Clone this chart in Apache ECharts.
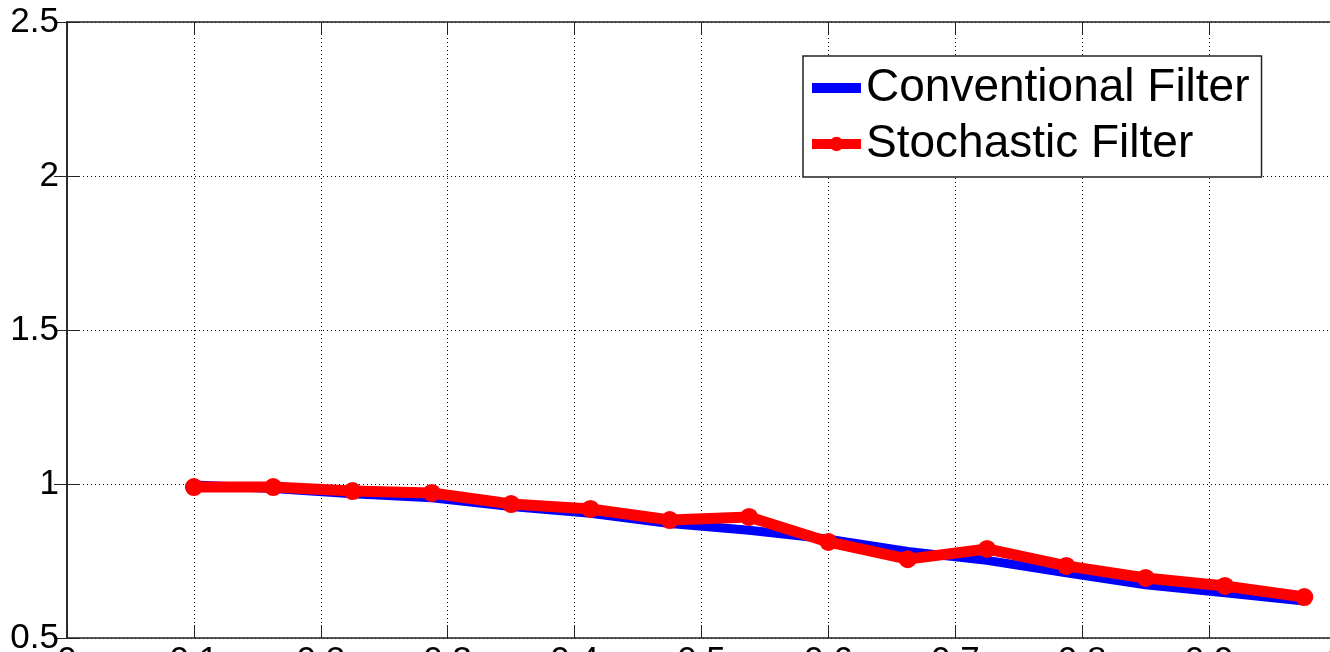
<!DOCTYPE html>
<html><head><meta charset="utf-8">
<script src="https://cdn.jsdelivr.net/npm/echarts@6/dist/echarts.min.js"></script>
<style>html,body{margin:0;padding:0;background:#fff}#c{width:1330px;height:652px}</style>
</head><body><div id="c"></div>
<script>
// Data
const xValues = [0.1, 0.1625, 0.225, 0.2875, 0.35, 0.4125, 0.475, 0.5375, 0.6, 0.6625, 0.725, 0.7875, 0.85, 0.9125, 0.975];
const conventional = [0.997, 0.985, 0.968, 0.955, 0.927, 0.905, 0.872, 0.85, 0.821, 0.781, 0.752, 0.712, 0.673, 0.647, 0.620];
const stochastic = [0.990, 0.990, 0.977, 0.971, 0.935, 0.919, 0.883, 0.893, 0.812, 0.756, 0.789, 0.734, 0.695, 0.669, 0.633];
const seriesNames = ['Conventional Filter', 'Stochastic Filter'];

const FONT = 'Liberation Sans, Arial, Helvetica, sans-serif';
const chart = echarts.init(document.getElementById('c'));

const axisCommon = {
  type: 'value',
  axisLine: { show: true, lineStyle: { color: '#222', width: 1.5 } },
  axisTick: { show: true, inside: true, length: 13, lineStyle: { color: '#222', width: 1 } }
};

chart.setOption({
  animation: false,
  backgroundColor: '#fff',
  grid: { left: 67, right: -6, top: 22, bottom: 14, containLabel: false, outerBoundsMode: 'none' },
  legend: {
    orient: 'vertical',
    left: 803, top: 56,
    backgroundColor: '#fff',
    borderColor: '#222', borderWidth: 1.5,
    padding: [9, 12, 10, 4],
    itemGap: 10,
    itemWidth: 49, itemHeight: 18,
    textStyle: { fontSize: 46, color: '#000', fontFamily: FONT },
    data: [
      { name: seriesNames[0], itemStyle: { opacity: 0 }, lineStyle: { width: 10, color: '#0000ff' } },
      { name: seriesNames[1], lineStyle: { width: 10, color: '#ff0000' } }
    ]
  },
  xAxis: [
    Object.assign({}, axisCommon, {
      min: 0, max: 1, interval: 0.1, position: 'bottom',
      axisLabel: { fontSize: 35, color: '#000', fontFamily: FONT, margin: 6 },
      splitLine: { show: true, lineStyle: { type: [1, 3], color: '#000', width: 1 } }
    }),
    Object.assign({}, axisCommon, {
      min: 0, max: 1, interval: 0.1, position: 'top',
      axisLabel: { show: false }, splitLine: { show: false }
    })
  ],
  yAxis: [
    Object.assign({}, axisCommon, {
      min: 0.5, max: 2.5, interval: 0.5, position: 'left',
      axisLabel: { fontSize: 35, color: '#000', fontFamily: FONT, margin: 8 },
      splitLine: { show: true, lineStyle: { type: [1, 3], color: '#000', width: 1 } }
    }),
    Object.assign({}, axisCommon, {
      min: 0.5, max: 2.5, interval: 0.5, position: 'right',
      axisLabel: { show: false }, splitLine: { show: false }
    })
  ],
  series: [
    {
      name: seriesNames[0], type: 'line', z: 2,
      data: xValues.map((x, i) => [x, conventional[i]]),
      symbol: 'none', showSymbol: false,
      lineStyle: { color: '#0000ff', width: 9 },
      itemStyle: { color: '#0000ff' }
    },
    {
      name: seriesNames[1], type: 'line', z: 3,
      data: xValues.map((x, i) => [x, stochastic[i]]),
      symbol: 'circle', symbolSize: 18,
      lineStyle: { color: '#ff0000', width: 11 },
      itemStyle: { color: '#ff0000' }
    }
  ]
});
</script>
</body></html>
